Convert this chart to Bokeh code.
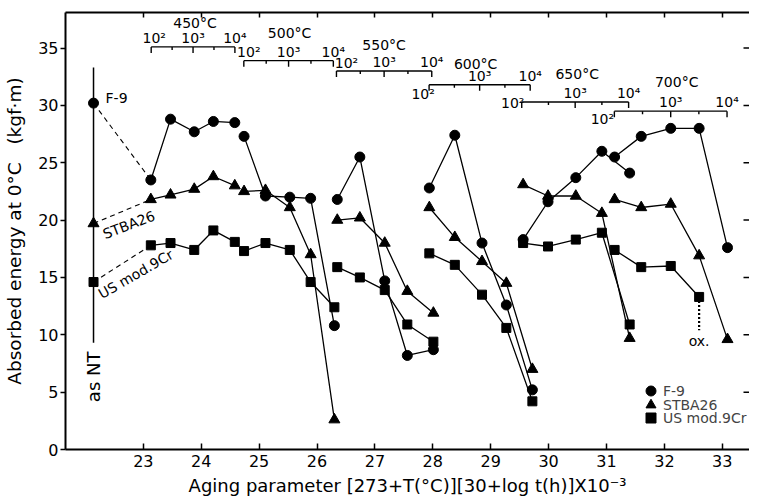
import math
from bokeh.plotting import figure
from bokeh.models import (Range1d, LinearAxis, FixedTicker, Legend, LegendItem)
from bokeh.core.properties import value
from bokeh.embed import file_html
from bokeh.resources import INLINE

FONT = "DejaVu Sans"

# ---------------- data ----------------
temps = [450, 500, 550, 600, 650, 700]
temp_labels = ["450°C", "500°C", "550°C", "600°C", "650°C", "700°C"]
log_hours = [2, 2.5, 3, 3.5, 4]           # aging times 10^2 ... 10^4 h
time_labels = ["10²", "10³", "10⁴"]

# aging parameter of each point, one row per temperature
aging_param = [
    [23.13, 23.47, 23.88, 24.21, 24.58],
    [24.74, 25.11, 25.53, 25.89, 26.30],
    [26.35, 26.74, 27.17, 27.56, 28.01],
    [27.94, 28.38, 28.85, 29.27, 29.72],
    [29.56, 29.99, 30.47, 30.92, 31.40],
    [31.14, 31.60, 32.11, 32.60, 33.09],
]
f9_energy = [
    [23.5, 28.8, 27.7, 28.6, 28.5],
    [27.3, 22.1, 22.0, 21.9, 10.8],
    [21.8, 25.5, 14.7, 8.2, 8.7],
    [22.8, 27.4, 18.0, 12.6, 5.2],
    [18.3, 21.6, 23.7, 26.0, 24.1],
    [25.5, 27.3, 28.0, 28.0, 17.6],
]
stba_energy = [
    [21.8, 22.2, 22.7, 23.8, 23.0],
    [22.5, 22.6, 21.1, 17.0, 2.6],
    [20.0, 20.2, 18.0, 13.8, 11.9],
    [21.1, 18.5, 16.4, 14.5, 7.0],
    [23.1, 22.1, 22.1, 20.6, 9.7],
    [21.8, 21.1, 21.4, 16.9, 9.6],
]
us_energy = [
    [17.8, 18.0, 17.4, 19.1, 18.1],
    [17.3, 18.0, 17.4, 14.6, 12.4],
    [15.9, 15.0, 13.9, 10.9, 9.4],
    [17.1, 16.1, 13.5, 10.6, 4.2],
    [18.0, 17.7, 18.3, 18.9, 10.9],
    [17.4, 15.9, 16.0, 13.3, None],   # 700°C 10^4 h: oxidized
]
materials = ["F-9", "STBA26", "US mod.9Cr"]
nt_param = 22.14                      # "as NT" (normalized & tempered)
nt_energy = [30.2, 19.7, 14.6]        # F-9, STBA26, US mod.9Cr
nt_span = [9.3, 33.3]
ox_end = 10.4                         # oxidized specimen, dotted drop

scale_levels = [35.1, 33.9, 33.0, 31.8, 30.3, 29.5]   # y of the time scales

x_ticks = list(range(23, 34))
y_ticks = list(range(0, 36, 5))

# ---------------- figure ----------------
X0, X1 = 21.656, 33.47
p = figure(width=749, height=499, x_range=Range1d(X0, X1),
           y_range=Range1d(0, 38.1), output_backend="svg",
           toolbar_location=None, min_border_left=65, min_border_right=0,
           min_border_top=12, min_border_bottom=50)
p.outline_line_color = None
p.xgrid.visible = False
p.ygrid.visible = False
p.background_fill_color = "white"
p.border_fill_color = "white"

xa = p.xaxis[0]
xa.ticker = FixedTicker(ticks=x_ticks)
xa.major_tick_in = 6
xa.major_tick_out = 0
xa.minor_tick_line_color = None
xa.major_label_text_font = FONT
xa.major_label_text_font_size = "16px"
xa.major_label_text_color = "black"
xa.major_label_standoff = 5
xa.axis_label = "Aging parameter [273+T(°C)][30+log t(h)]X10⁻³"
xa.axis_label_text_font = FONT
xa.axis_label_text_font_size = "18px"
xa.axis_label_text_font_style = "normal"
xa.axis_label_text_color = "black"
xa.axis_label_standoff = 5
xa.axis_line_width = 2
xa.major_tick_line_width = 1.5

ya = p.yaxis[0]
ya.ticker = FixedTicker(ticks=y_ticks)
ya.major_tick_in = 0
ya.major_tick_out = 5
ya.minor_tick_line_color = None
ya.major_label_text_font = FONT
ya.major_label_text_font_size = "16px"
ya.major_label_text_color = "black"
ya.major_label_standoff = 2
ya.axis_label = "Absorbed energy at 0°C\u00a0\u00a0\u00a0(kgf·m)"
ya.axis_label_text_font = FONT
ya.axis_label_text_font_size = "18.5px"
ya.axis_label_text_font_style = "normal"
ya.axis_label_text_color = "black"
ya.axis_label_standoff = 10
ya.axis_line_width = 2
ya.major_tick_line_width = 1.5

top = LinearAxis(ticker=FixedTicker(ticks=x_ticks), major_tick_in=5,
                 major_tick_out=0, minor_tick_line_color=None,
                 major_label_text_font_size="0px", major_label_standoff=0,
                 axis_line_width=2, major_tick_line_width=1.5)
p.add_layout(top, "above")

# short inward ticks on the right edge (no frame line there)
p.scatter([X1] * (len(y_ticks) - 1), y_ticks[1:], marker="dash", size=12,
          line_color="black", line_width=1.5)

# ---------------- series ----------------
series = [(f9_energy, "circle", 10), (stba_energy, "triangle", 11),
          (us_energy, "square", 9)]
renderers = []
for k, (energy, marker, size) in enumerate(series):
    xs, ys = [], []
    px, py = [nt_param], [nt_energy[k]]
    for xrow, yrow in zip(aging_param, energy):
        lx = [x for x, y in zip(xrow, yrow) if y is not None]
        ly = [y for y in yrow if y is not None]
        xs.append(lx)
        ys.append(ly)
        px += lx
        py += ly
    p.multi_line(xs=xs, ys=ys, line_color="black", line_width=1.3)
    # dashed link from the as-NT value to the first aged value
    p.line([nt_param, aging_param[0][0]], [nt_energy[k], energy[0][0]],
           line_color="black", line_width=1.1, line_dash="5 4")
    r = p.scatter(px, py, marker=marker, size=size, fill_color="black",
                  line_color="black")
    renderers.append(r)

# as-NT vertical line
p.line([nt_param, nt_param], nt_span, line_color="black", line_width=1.5)
p.text([nt_param], [nt_span[0]], text=["as NT"], angle=math.pi / 2,
       text_align="center", text_baseline="middle", y_offset=34,
       text_font=value(FONT), text_font_size="18px", text_color="black")

# curve names near the NT values
p.text([nt_param], [nt_energy[0]], text=[materials[0]], x_offset=12,
       y_offset=-5, text_align="left", text_baseline="middle",
       text_font=value(FONT), text_font_size="14px")
p.text([nt_param], [nt_energy[1]], text=[materials[1]], x_offset=10,
       y_offset=11, angle=math.radians(21), text_align="left",
       text_baseline="middle", text_font=value(FONT), text_font_size="14px")
p.text([nt_param], [nt_energy[2]], text=[materials[2]], x_offset=6,
       y_offset=13, angle=math.radians(30), text_align="left",
       text_baseline="middle", text_font=value(FONT), text_font_size="14px")

# oxidized specimen marker
x_ox = aging_param[5][3]
p.line([x_ox, x_ox], [us_energy[5][3], ox_end], line_color="black",
       line_width=2.2, line_dash="2 2")
p.text([x_ox], [ox_end], text=["ox."], text_align="center",
       text_baseline="top", y_offset=3, text_font=value(FONT),
       text_font_size="14px")

# ---------------- aging-time scales on top ----------------
def aging_parameter(t_c, lg):
    return (273 + t_c) * (30 + lg) / 1000.0

px_per_unit = 437 / 38.1
major_len = 6 / px_per_unit
minor_len = 3 / px_per_unit
first_label_off = [(3, -9), (5, -9), (10, -8), (-6, 9), (-9, 1), (-12, 8)]
temp_label_off = [(2, -24), (1, -28), (0, -26), (-4, -21), (2, -28), (6, -29)]

for i, t_c in enumerate(temps):
    lvl = scale_levels[i]
    xpos = [aging_parameter(t_c, lg) for lg in log_hours]
    p.line([xpos[0], xpos[-1]], [lvl, lvl], line_color="black", line_width=1.4)
    y1 = [lvl - (major_len if lg == int(lg) else minor_len) for lg in log_hours]
    p.segment(x0=xpos, y0=[lvl] * len(xpos), x1=xpos, y1=y1,
              line_color="black", line_width=1.4)
    majors = [xpos[0], xpos[2], xpos[4]]
    for j, (xm, lab) in enumerate(zip(majors, time_labels)):
        dx, dy = first_label_off[i] if j == 0 else (0, -9)
        p.text([xm], [lvl], text=[lab], x_offset=dx, y_offset=dy,
               text_align="center", text_baseline="middle",
               text_font=value(FONT), text_font_size="14px")
    dx, dy = temp_label_off[i]
    p.text([xpos[2]], [lvl], text=[temp_labels[i]], x_offset=dx, y_offset=dy,
           text_align="center", text_baseline="middle",
           text_font=value(FONT), text_font_size="14px")

# ---------------- legend (one compact entry per row) ----------------
legend_rows_y = [46, 32, 19]      # pixel offsets of the rows from the frame bottom
for m, r, ly in zip(materials, renderers, legend_rows_y):
    lg = Legend(items=[LegendItem(label=m, renderers=[r])],
                location=(573, ly), padding=0, margin=0, spacing=0,
                glyph_width=25, glyph_height=25, label_height=25,
                label_standoff=-2, label_text_font=FONT,
                label_text_font_size="14px", border_line_color=None,
                background_fill_alpha=0)
    p.add_layout(lg, "center")

open("out.html", "w").write(file_html(p, INLINE))
